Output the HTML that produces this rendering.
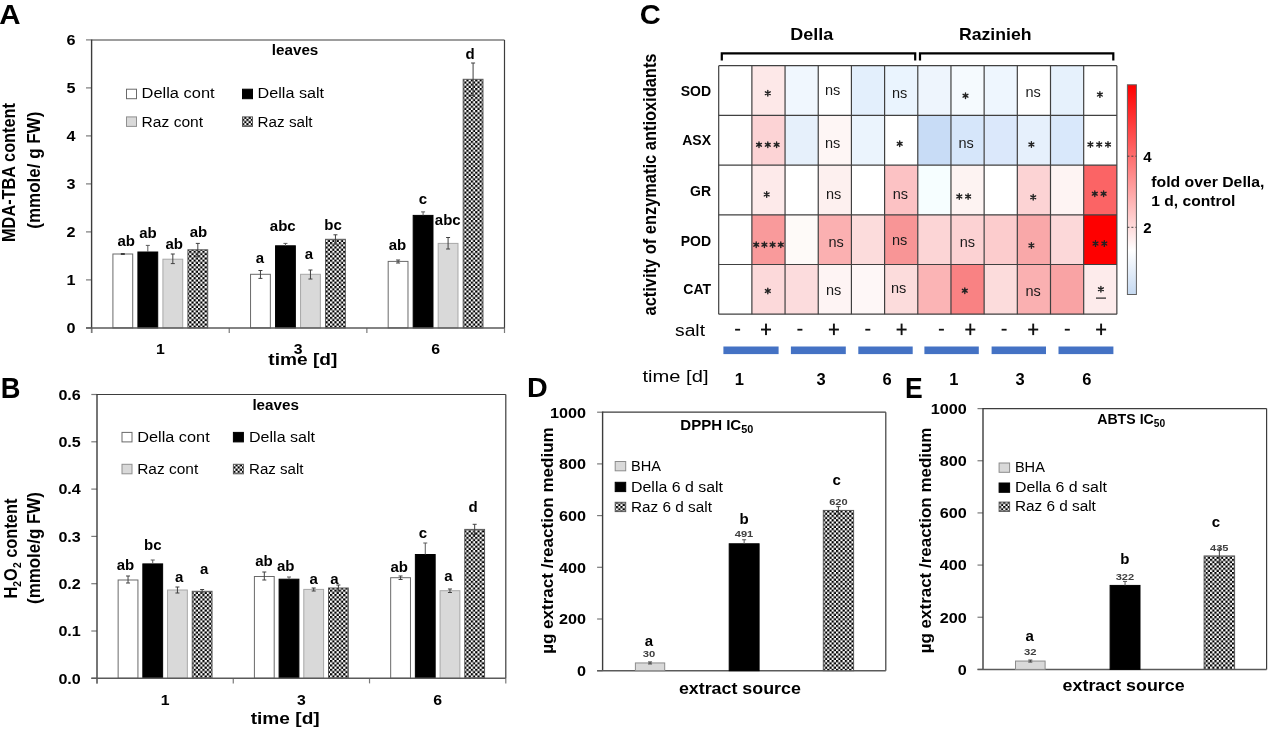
<!DOCTYPE html><html><head><meta charset="utf-8"><style>html,body{margin:0;padding:0;background:#fff;width:1268px;height:729px;overflow:hidden}svg{display:block;will-change:transform}text{font-family:"Liberation Sans",sans-serif}</style></head><body>
<svg width="1268" height="729" viewBox="0 0 1268 729">
<defs><pattern id="chk" patternUnits="userSpaceOnUse" width="4.4" height="4.4"><rect width="4.4" height="4.4" fill="#fff"/><rect width="2.2" height="2.2" fill="#000"/><rect x="2.2" y="2.2" width="2.2" height="2.2" fill="#000"/></pattern><linearGradient id="cb" x1="0" y1="0" x2="0" y2="1"><stop offset="0" stop-color="#ff0000"/><stop offset="0.79" stop-color="#ffffff"/><stop offset="1" stop-color="#c5d9f1"/></linearGradient></defs>
<rect x="0" y="0" width="1268" height="729" fill="#fff"/>
<text x="-0.8" y="24" font-size="27" font-weight="bold" textLength="21.3" lengthAdjust="spacingAndGlyphs" fill="#000">A</text>
<line x1="91.6" y1="40" x2="504.5" y2="40" stroke="#3d3d3d" stroke-width="1.2"/>
<line x1="504.5" y1="40" x2="504.5" y2="327.9" stroke="#3d3d3d" stroke-width="1.2"/>
<line x1="86" y1="327.9" x2="91.6" y2="327.9" stroke="#7a7a7a" stroke-width="1.2"/>
<text x="75.6" y="333.2" font-size="15" font-weight="bold" text-anchor="end" textLength="9.0" lengthAdjust="spacingAndGlyphs" fill="#000">0</text>
<line x1="86" y1="279.9" x2="91.6" y2="279.9" stroke="#7a7a7a" stroke-width="1.2"/>
<text x="75.6" y="285.2" font-size="15" font-weight="bold" text-anchor="end" textLength="9.0" lengthAdjust="spacingAndGlyphs" fill="#000">1</text>
<line x1="86" y1="231.89999999999998" x2="91.6" y2="231.89999999999998" stroke="#7a7a7a" stroke-width="1.2"/>
<text x="75.6" y="237.2" font-size="15" font-weight="bold" text-anchor="end" textLength="9.0" lengthAdjust="spacingAndGlyphs" fill="#000">2</text>
<line x1="86" y1="183.89999999999998" x2="91.6" y2="183.89999999999998" stroke="#7a7a7a" stroke-width="1.2"/>
<text x="75.6" y="189.2" font-size="15" font-weight="bold" text-anchor="end" textLength="9.0" lengthAdjust="spacingAndGlyphs" fill="#000">3</text>
<line x1="86" y1="135.89999999999998" x2="91.6" y2="135.89999999999998" stroke="#7a7a7a" stroke-width="1.2"/>
<text x="75.6" y="141.2" font-size="15" font-weight="bold" text-anchor="end" textLength="9.0" lengthAdjust="spacingAndGlyphs" fill="#000">4</text>
<line x1="86" y1="87.89999999999998" x2="91.6" y2="87.89999999999998" stroke="#7a7a7a" stroke-width="1.2"/>
<text x="75.6" y="93.19999999999997" font-size="15" font-weight="bold" text-anchor="end" textLength="9.0" lengthAdjust="spacingAndGlyphs" fill="#000">5</text>
<line x1="86" y1="39.89999999999998" x2="91.6" y2="39.89999999999998" stroke="#7a7a7a" stroke-width="1.2"/>
<text x="75.6" y="45.199999999999974" font-size="15" font-weight="bold" text-anchor="end" textLength="9.0" lengthAdjust="spacingAndGlyphs" fill="#000">6</text>
<line x1="91.6" y1="39.4" x2="91.6" y2="333" stroke="#3c3c3c" stroke-width="1.4"/>
<line x1="91.6" y1="327.9" x2="91.6" y2="333" stroke="#7a7a7a" stroke-width="1.2"/>
<line x1="229.23333333333332" y1="327.9" x2="229.23333333333332" y2="333" stroke="#7a7a7a" stroke-width="1.2"/>
<line x1="366.8666666666667" y1="327.9" x2="366.8666666666667" y2="333" stroke="#7a7a7a" stroke-width="1.2"/>
<line x1="504.5" y1="327.9" x2="504.5" y2="333" stroke="#7a7a7a" stroke-width="1.2"/>
<rect x="112.91666666666666" y="254" width="19.80000000000001" height="73.89999999999998" fill="#fff" stroke="#6a6a6a" stroke-width="1"/>
<line x1="122.81666666666666" y1="253.5" x2="122.81666666666666" y2="254.5" stroke="#404040" stroke-width="1"/>
<line x1="120.81666666666666" y1="253.5" x2="124.81666666666666" y2="253.5" stroke="#404040" stroke-width="1"/>
<line x1="120.81666666666666" y1="254.5" x2="124.81666666666666" y2="254.5" stroke="#404040" stroke-width="1"/>
<rect x="137.91666666666666" y="252" width="19.80000000000001" height="75.89999999999998" fill="#000" stroke="#000" stroke-width="1"/>
<line x1="147.81666666666666" y1="245.4" x2="147.81666666666666" y2="252" stroke="#5a5a5a" stroke-width="1"/>
<line x1="145.81666666666666" y1="245.4" x2="149.81666666666666" y2="245.4" stroke="#5a5a5a" stroke-width="1"/>
<rect x="162.91666666666666" y="259.2" width="19.80000000000001" height="68.69999999999999" fill="#d9d9d9" stroke="#a8a8a8" stroke-width="1"/>
<line x1="172.81666666666666" y1="254" x2="172.81666666666666" y2="263.6" stroke="#404040" stroke-width="1"/>
<line x1="170.81666666666666" y1="254" x2="174.81666666666666" y2="254" stroke="#404040" stroke-width="1"/>
<line x1="170.81666666666666" y1="263.6" x2="174.81666666666666" y2="263.6" stroke="#404040" stroke-width="1"/>
<rect x="187.91666666666666" y="249.8" width="19.80000000000001" height="78.09999999999997" fill="url(#chk)" stroke="#595959" stroke-width="1"/>
<line x1="197.81666666666666" y1="243.4" x2="197.81666666666666" y2="256.2" stroke="#404040" stroke-width="1"/>
<line x1="195.81666666666666" y1="243.4" x2="199.81666666666666" y2="243.4" stroke="#404040" stroke-width="1"/>
<line x1="195.81666666666666" y1="256.2" x2="199.81666666666666" y2="256.2" stroke="#404040" stroke-width="1"/>
<rect x="250.54999999999995" y="274.3" width="19.80000000000001" height="53.599999999999966" fill="#fff" stroke="#6a6a6a" stroke-width="1"/>
<line x1="260.44999999999993" y1="270.5" x2="260.44999999999993" y2="278.4" stroke="#404040" stroke-width="1"/>
<line x1="258.44999999999993" y1="270.5" x2="262.44999999999993" y2="270.5" stroke="#404040" stroke-width="1"/>
<line x1="258.44999999999993" y1="278.4" x2="262.44999999999993" y2="278.4" stroke="#404040" stroke-width="1"/>
<rect x="275.54999999999995" y="245.8" width="19.80000000000001" height="82.09999999999997" fill="#000" stroke="#000" stroke-width="1"/>
<line x1="285.44999999999993" y1="243.4" x2="285.44999999999993" y2="245.8" stroke="#5a5a5a" stroke-width="1"/>
<line x1="283.44999999999993" y1="243.4" x2="287.44999999999993" y2="243.4" stroke="#5a5a5a" stroke-width="1"/>
<rect x="300.54999999999995" y="274.3" width="19.80000000000001" height="53.599999999999966" fill="#d9d9d9" stroke="#a8a8a8" stroke-width="1"/>
<line x1="310.44999999999993" y1="270" x2="310.44999999999993" y2="279" stroke="#404040" stroke-width="1"/>
<line x1="308.44999999999993" y1="270" x2="312.44999999999993" y2="270" stroke="#404040" stroke-width="1"/>
<line x1="308.44999999999993" y1="279" x2="312.44999999999993" y2="279" stroke="#404040" stroke-width="1"/>
<rect x="325.54999999999995" y="239.3" width="19.80000000000001" height="88.59999999999997" fill="url(#chk)" stroke="#595959" stroke-width="1"/>
<line x1="335.44999999999993" y1="234.8" x2="335.44999999999993" y2="244" stroke="#404040" stroke-width="1"/>
<line x1="333.44999999999993" y1="234.8" x2="337.44999999999993" y2="234.8" stroke="#404040" stroke-width="1"/>
<line x1="333.44999999999993" y1="244" x2="337.44999999999993" y2="244" stroke="#404040" stroke-width="1"/>
<rect x="388.1833333333333" y="261.4" width="19.80000000000001" height="66.5" fill="#fff" stroke="#6a6a6a" stroke-width="1"/>
<line x1="398.08333333333326" y1="260" x2="398.08333333333326" y2="263" stroke="#404040" stroke-width="1"/>
<line x1="396.08333333333326" y1="260" x2="400.08333333333326" y2="260" stroke="#404040" stroke-width="1"/>
<line x1="396.08333333333326" y1="263" x2="400.08333333333326" y2="263" stroke="#404040" stroke-width="1"/>
<rect x="413.1833333333333" y="215.4" width="19.80000000000001" height="112.49999999999997" fill="#000" stroke="#000" stroke-width="1"/>
<line x1="423.08333333333326" y1="211.9" x2="423.08333333333326" y2="215.4" stroke="#5a5a5a" stroke-width="1"/>
<line x1="421.08333333333326" y1="211.9" x2="425.08333333333326" y2="211.9" stroke="#5a5a5a" stroke-width="1"/>
<rect x="438.1833333333333" y="243.4" width="19.80000000000001" height="84.49999999999997" fill="#d9d9d9" stroke="#a8a8a8" stroke-width="1"/>
<line x1="448.08333333333326" y1="237.5" x2="448.08333333333326" y2="249" stroke="#404040" stroke-width="1"/>
<line x1="446.08333333333326" y1="237.5" x2="450.08333333333326" y2="237.5" stroke="#404040" stroke-width="1"/>
<line x1="446.08333333333326" y1="249" x2="450.08333333333326" y2="249" stroke="#404040" stroke-width="1"/>
<rect x="463.1833333333333" y="79.3" width="19.80000000000001" height="248.59999999999997" fill="url(#chk)" stroke="#595959" stroke-width="1"/>
<line x1="473.08333333333326" y1="63" x2="473.08333333333326" y2="95.6" stroke="#404040" stroke-width="1"/>
<line x1="471.08333333333326" y1="63" x2="475.08333333333326" y2="63" stroke="#404040" stroke-width="1"/>
<line x1="471.08333333333326" y1="95.6" x2="475.08333333333326" y2="95.6" stroke="#404040" stroke-width="1"/>
<line x1="86" y1="327.9" x2="504.5" y2="327.9" stroke="#5a5a5a" stroke-width="1.5"/>
<text x="160.41666666666666" y="353.7" font-size="14.5" font-weight="bold" text-anchor="middle" textLength="8.8" lengthAdjust="spacingAndGlyphs" fill="#000">1</text>
<text x="298.04999999999995" y="353.7" font-size="14.5" font-weight="bold" text-anchor="middle" textLength="8.8" lengthAdjust="spacingAndGlyphs" fill="#000">3</text>
<text x="435.6833333333333" y="353.7" font-size="14.5" font-weight="bold" text-anchor="middle" textLength="8.8" lengthAdjust="spacingAndGlyphs" fill="#000">6</text>
<text x="268.3" y="365" font-size="16.5" font-weight="bold" textLength="69" lengthAdjust="spacingAndGlyphs" fill="#000">time [d]</text>
<text x="271.8" y="54.8" font-size="14" font-weight="bold" textLength="46.5" lengthAdjust="spacingAndGlyphs" fill="#000">leaves</text>
<rect x="126.5" y="89.2" width="10" height="9.5" fill="#fff" stroke="#6a6a6a" stroke-width="1"/>
<rect x="242.5" y="89.2" width="10" height="9.5" fill="#000" stroke="#000" stroke-width="1"/>
<rect x="126.5" y="116.9" width="10" height="9.5" fill="#d9d9d9" stroke="#909090" stroke-width="1"/>
<rect x="242.5" y="116.9" width="10" height="9.5" fill="url(#chk)" stroke="#595959" stroke-width="1"/>
<text x="141.6" y="98.3" font-size="14" font-weight="normal" textLength="73" lengthAdjust="spacingAndGlyphs" fill="#000">Della cont</text>
<text x="257.6" y="98.3" font-size="14" font-weight="normal" textLength="66.5" lengthAdjust="spacingAndGlyphs" fill="#000">Della salt</text>
<text x="141.6" y="126.7" font-size="14" font-weight="normal" textLength="61.5" lengthAdjust="spacingAndGlyphs" fill="#000">Raz cont</text>
<text x="257.6" y="126.7" font-size="14" font-weight="normal" textLength="55" lengthAdjust="spacingAndGlyphs" fill="#000">Raz salt</text>
<text x="126.3" y="246.3" font-size="15" font-weight="bold" text-anchor="middle" fill="#000">ab</text>
<text x="147.9" y="238.1" font-size="15" font-weight="bold" text-anchor="middle" fill="#000">ab</text>
<text x="174.2" y="248.7" font-size="15" font-weight="bold" text-anchor="middle" fill="#000">ab</text>
<text x="198.4" y="236.5" font-size="15" font-weight="bold" text-anchor="middle" fill="#000">ab</text>
<text x="259.8" y="262.5" font-size="15" font-weight="bold" text-anchor="middle" fill="#000">a</text>
<text x="282.8" y="231.2" font-size="15" font-weight="bold" text-anchor="middle" fill="#000">abc</text>
<text x="308.8" y="259.2" font-size="15" font-weight="bold" text-anchor="middle" fill="#000">a</text>
<text x="333" y="230.2" font-size="15" font-weight="bold" text-anchor="middle" fill="#000">bc</text>
<text x="397.5" y="250.3" font-size="15" font-weight="bold" text-anchor="middle" fill="#000">ab</text>
<text x="422.8" y="203.8" font-size="15" font-weight="bold" text-anchor="middle" fill="#000">c</text>
<text x="447.8" y="225" font-size="15" font-weight="bold" text-anchor="middle" fill="#000">abc</text>
<text x="470" y="59.2" font-size="15" font-weight="bold" text-anchor="middle" fill="#000">d</text>
<text transform="translate(15.2,172.5) rotate(-90)" font-size="17.5" font-weight="bold" text-anchor="middle" textLength="139" lengthAdjust="spacingAndGlyphs" fill="#000">MDA-TBA content</text>
<text transform="translate(40.3,170.2) rotate(-90)" font-size="17.5" font-weight="bold" text-anchor="middle" textLength="117" lengthAdjust="spacingAndGlyphs" fill="#000">(mmole/ g FW)</text>
<text x="0.7" y="397.8" font-size="29" font-weight="bold" textLength="19.7" lengthAdjust="spacingAndGlyphs" fill="#000">B</text>
<line x1="97" y1="394.5" x2="505.8" y2="394.5" stroke="#3d3d3d" stroke-width="1.2"/>
<line x1="505.8" y1="394.5" x2="505.8" y2="678.3" stroke="#3d3d3d" stroke-width="1.2"/>
<line x1="91.3" y1="678.3" x2="97" y2="678.3" stroke="#7a7a7a" stroke-width="1.2"/>
<text x="80.8" y="683.5999999999999" font-size="15" font-weight="bold" text-anchor="end" textLength="22.4" lengthAdjust="spacingAndGlyphs" fill="#000">0.0</text>
<line x1="91.3" y1="631.0" x2="97" y2="631.0" stroke="#7a7a7a" stroke-width="1.2"/>
<text x="80.8" y="636.3" font-size="15" font-weight="bold" text-anchor="end" textLength="22.4" lengthAdjust="spacingAndGlyphs" fill="#000">0.1</text>
<line x1="91.3" y1="583.6999999999999" x2="97" y2="583.6999999999999" stroke="#7a7a7a" stroke-width="1.2"/>
<text x="80.8" y="588.9999999999999" font-size="15" font-weight="bold" text-anchor="end" textLength="22.4" lengthAdjust="spacingAndGlyphs" fill="#000">0.2</text>
<line x1="91.3" y1="536.4" x2="97" y2="536.4" stroke="#7a7a7a" stroke-width="1.2"/>
<text x="80.8" y="541.6999999999999" font-size="15" font-weight="bold" text-anchor="end" textLength="22.4" lengthAdjust="spacingAndGlyphs" fill="#000">0.3</text>
<line x1="91.3" y1="489.09999999999997" x2="97" y2="489.09999999999997" stroke="#7a7a7a" stroke-width="1.2"/>
<text x="80.8" y="494.4" font-size="15" font-weight="bold" text-anchor="end" textLength="22.4" lengthAdjust="spacingAndGlyphs" fill="#000">0.4</text>
<line x1="91.3" y1="441.79999999999995" x2="97" y2="441.79999999999995" stroke="#7a7a7a" stroke-width="1.2"/>
<text x="80.8" y="447.09999999999997" font-size="15" font-weight="bold" text-anchor="end" textLength="22.4" lengthAdjust="spacingAndGlyphs" fill="#000">0.5</text>
<line x1="91.3" y1="394.5" x2="97" y2="394.5" stroke="#7a7a7a" stroke-width="1.2"/>
<text x="80.8" y="399.8" font-size="15" font-weight="bold" text-anchor="end" textLength="22.4" lengthAdjust="spacingAndGlyphs" fill="#000">0.6</text>
<line x1="97" y1="393.9" x2="97" y2="683.4" stroke="#3c3c3c" stroke-width="1.4"/>
<line x1="97.0" y1="678.3" x2="97.0" y2="683.4" stroke="#7a7a7a" stroke-width="1.2"/>
<line x1="233.26666666666668" y1="678.3" x2="233.26666666666668" y2="683.4" stroke="#7a7a7a" stroke-width="1.2"/>
<line x1="369.53333333333336" y1="678.3" x2="369.53333333333336" y2="683.4" stroke="#7a7a7a" stroke-width="1.2"/>
<line x1="505.80000000000007" y1="678.3" x2="505.80000000000007" y2="683.4" stroke="#7a7a7a" stroke-width="1.2"/>
<rect x="118.13333333333333" y="580" width="19.80000000000001" height="98.29999999999995" fill="#fff" stroke="#6a6a6a" stroke-width="1"/>
<line x1="128.03333333333333" y1="576" x2="128.03333333333333" y2="583" stroke="#404040" stroke-width="1"/>
<line x1="126.03333333333333" y1="576" x2="130.03333333333333" y2="576" stroke="#404040" stroke-width="1"/>
<line x1="126.03333333333333" y1="583" x2="130.03333333333333" y2="583" stroke="#404040" stroke-width="1"/>
<rect x="142.83333333333331" y="563.9" width="19.80000000000001" height="114.39999999999998" fill="#000" stroke="#000" stroke-width="1"/>
<line x1="152.73333333333332" y1="560" x2="152.73333333333332" y2="563.9" stroke="#5a5a5a" stroke-width="1"/>
<line x1="150.73333333333332" y1="560" x2="154.73333333333332" y2="560" stroke="#5a5a5a" stroke-width="1"/>
<rect x="167.53333333333333" y="590" width="19.80000000000001" height="88.29999999999995" fill="#d9d9d9" stroke="#a8a8a8" stroke-width="1"/>
<line x1="177.43333333333334" y1="587" x2="177.43333333333334" y2="593" stroke="#404040" stroke-width="1"/>
<line x1="175.43333333333334" y1="587" x2="179.43333333333334" y2="587" stroke="#404040" stroke-width="1"/>
<line x1="175.43333333333334" y1="593" x2="179.43333333333334" y2="593" stroke="#404040" stroke-width="1"/>
<rect x="192.23333333333332" y="591.3" width="19.80000000000001" height="87.0" fill="url(#chk)" stroke="#595959" stroke-width="1"/>
<line x1="202.13333333333333" y1="589.5" x2="202.13333333333333" y2="593" stroke="#404040" stroke-width="1"/>
<line x1="200.13333333333333" y1="589.5" x2="204.13333333333333" y2="589.5" stroke="#404040" stroke-width="1"/>
<line x1="200.13333333333333" y1="593" x2="204.13333333333333" y2="593" stroke="#404040" stroke-width="1"/>
<rect x="254.40000000000003" y="576.5" width="19.80000000000001" height="101.79999999999995" fill="#fff" stroke="#6a6a6a" stroke-width="1"/>
<line x1="264.3" y1="572" x2="264.3" y2="580" stroke="#404040" stroke-width="1"/>
<line x1="262.3" y1="572" x2="266.3" y2="572" stroke="#404040" stroke-width="1"/>
<line x1="262.3" y1="580" x2="266.3" y2="580" stroke="#404040" stroke-width="1"/>
<rect x="279.1" y="579.2" width="19.80000000000001" height="99.09999999999991" fill="#000" stroke="#000" stroke-width="1"/>
<line x1="289.0" y1="577" x2="289.0" y2="579.2" stroke="#5a5a5a" stroke-width="1"/>
<line x1="287.0" y1="577" x2="291.0" y2="577" stroke="#5a5a5a" stroke-width="1"/>
<rect x="303.8" y="589.4" width="19.80000000000001" height="88.89999999999998" fill="#d9d9d9" stroke="#a8a8a8" stroke-width="1"/>
<line x1="313.7" y1="588" x2="313.7" y2="591" stroke="#404040" stroke-width="1"/>
<line x1="311.7" y1="588" x2="315.7" y2="588" stroke="#404040" stroke-width="1"/>
<line x1="311.7" y1="591" x2="315.7" y2="591" stroke="#404040" stroke-width="1"/>
<rect x="328.5" y="588" width="19.80000000000001" height="90.29999999999995" fill="url(#chk)" stroke="#595959" stroke-width="1"/>
<line x1="338.4" y1="585" x2="338.4" y2="591" stroke="#404040" stroke-width="1"/>
<line x1="336.4" y1="585" x2="340.4" y2="585" stroke="#404040" stroke-width="1"/>
<line x1="336.4" y1="591" x2="340.4" y2="591" stroke="#404040" stroke-width="1"/>
<rect x="390.6666666666667" y="577.7" width="19.80000000000001" height="100.59999999999991" fill="#fff" stroke="#6a6a6a" stroke-width="1"/>
<line x1="400.56666666666666" y1="576" x2="400.56666666666666" y2="579.5" stroke="#404040" stroke-width="1"/>
<line x1="398.56666666666666" y1="576" x2="402.56666666666666" y2="576" stroke="#404040" stroke-width="1"/>
<line x1="398.56666666666666" y1="579.5" x2="402.56666666666666" y2="579.5" stroke="#404040" stroke-width="1"/>
<rect x="415.3666666666667" y="554.5" width="19.80000000000001" height="123.79999999999995" fill="#000" stroke="#000" stroke-width="1"/>
<line x1="425.26666666666665" y1="543" x2="425.26666666666665" y2="554.5" stroke="#5a5a5a" stroke-width="1"/>
<line x1="423.26666666666665" y1="543" x2="427.26666666666665" y2="543" stroke="#5a5a5a" stroke-width="1"/>
<rect x="440.06666666666666" y="590.7" width="19.80000000000001" height="87.59999999999991" fill="#d9d9d9" stroke="#a8a8a8" stroke-width="1"/>
<line x1="449.96666666666664" y1="589" x2="449.96666666666664" y2="592.5" stroke="#404040" stroke-width="1"/>
<line x1="447.96666666666664" y1="589" x2="451.96666666666664" y2="589" stroke="#404040" stroke-width="1"/>
<line x1="447.96666666666664" y1="592.5" x2="451.96666666666664" y2="592.5" stroke="#404040" stroke-width="1"/>
<rect x="464.76666666666665" y="529.4" width="19.80000000000001" height="148.89999999999998" fill="url(#chk)" stroke="#595959" stroke-width="1"/>
<line x1="474.66666666666663" y1="524.3" x2="474.66666666666663" y2="534.5" stroke="#404040" stroke-width="1"/>
<line x1="472.66666666666663" y1="524.3" x2="476.66666666666663" y2="524.3" stroke="#404040" stroke-width="1"/>
<line x1="472.66666666666663" y1="534.5" x2="476.66666666666663" y2="534.5" stroke="#404040" stroke-width="1"/>
<line x1="91.3" y1="678.3" x2="505.8" y2="678.3" stroke="#5a5a5a" stroke-width="1.5"/>
<text x="165.13333333333333" y="704.5" font-size="14.5" font-weight="bold" text-anchor="middle" textLength="8.8" lengthAdjust="spacingAndGlyphs" fill="#000">1</text>
<text x="301.40000000000003" y="704.5" font-size="14.5" font-weight="bold" text-anchor="middle" textLength="8.8" lengthAdjust="spacingAndGlyphs" fill="#000">3</text>
<text x="437.6666666666667" y="704.5" font-size="14.5" font-weight="bold" text-anchor="middle" textLength="8.8" lengthAdjust="spacingAndGlyphs" fill="#000">6</text>
<text x="250.7" y="723.9" font-size="16.5" font-weight="bold" textLength="69" lengthAdjust="spacingAndGlyphs" fill="#000">time [d]</text>
<text x="252.4" y="409.9" font-size="14" font-weight="bold" textLength="46.5" lengthAdjust="spacingAndGlyphs" fill="#000">leaves</text>
<rect x="122" y="432.4" width="10" height="9.5" fill="#fff" stroke="#6a6a6a" stroke-width="1"/>
<rect x="233.4" y="432.4" width="10" height="9.5" fill="#000" stroke="#000" stroke-width="1"/>
<rect x="122" y="464.3" width="10" height="9.5" fill="#d9d9d9" stroke="#909090" stroke-width="1"/>
<rect x="233.4" y="464.3" width="10" height="9.5" fill="url(#chk)" stroke="#595959" stroke-width="1"/>
<text x="137.2" y="441.5" font-size="14" font-weight="normal" textLength="72.5" lengthAdjust="spacingAndGlyphs" fill="#000">Della cont</text>
<text x="249" y="441.5" font-size="14" font-weight="normal" textLength="66" lengthAdjust="spacingAndGlyphs" fill="#000">Della salt</text>
<text x="137.2" y="473.7" font-size="14" font-weight="normal" textLength="61" lengthAdjust="spacingAndGlyphs" fill="#000">Raz cont</text>
<text x="249" y="473.7" font-size="14" font-weight="normal" textLength="54.5" lengthAdjust="spacingAndGlyphs" fill="#000">Raz salt</text>
<text x="125.4" y="569.9" font-size="15" font-weight="bold" text-anchor="middle" fill="#000">ab</text>
<text x="152.8" y="549.6" font-size="15" font-weight="bold" text-anchor="middle" fill="#000">bc</text>
<text x="179.1" y="582" font-size="15" font-weight="bold" text-anchor="middle" fill="#000">a</text>
<text x="204.1" y="573.7" font-size="15" font-weight="bold" text-anchor="middle" fill="#000">a</text>
<text x="263.9" y="566" font-size="15" font-weight="bold" text-anchor="middle" fill="#000">ab</text>
<text x="285.8" y="570.7" font-size="15" font-weight="bold" text-anchor="middle" fill="#000">ab</text>
<text x="313.6" y="583.6" font-size="15" font-weight="bold" text-anchor="middle" fill="#000">a</text>
<text x="334.4" y="583.6" font-size="15" font-weight="bold" text-anchor="middle" fill="#000">a</text>
<text x="399.2" y="571.7" font-size="15" font-weight="bold" text-anchor="middle" fill="#000">ab</text>
<text x="422.8" y="537.6" font-size="15" font-weight="bold" text-anchor="middle" fill="#000">c</text>
<text x="448.5" y="581.4" font-size="15" font-weight="bold" text-anchor="middle" fill="#000">a</text>
<text x="473.2" y="512" font-size="15" font-weight="bold" text-anchor="middle" fill="#000">d</text>
<text transform="translate(16.8,548.5) rotate(-90)" font-size="17.5" font-weight="bold" text-anchor="middle" textLength="100" lengthAdjust="spacingAndGlyphs">H<tspan font-size="11" dy="4">2</tspan><tspan dy="-4">O</tspan><tspan font-size="11" dy="4">2</tspan><tspan dy="-4"> content</tspan></text>
<text transform="translate(40.3,548) rotate(-90)" font-size="17.5" font-weight="bold" text-anchor="middle" textLength="112" lengthAdjust="spacingAndGlyphs" fill="#000">(mmole/g FW)</text>
<text x="639.8000000000001" y="24.4" font-size="27" font-weight="bold" textLength="21.0" lengthAdjust="spacingAndGlyphs" fill="#000">C</text>
<text x="790.3" y="40.2" font-size="17" font-weight="bold" textLength="43" lengthAdjust="spacingAndGlyphs" fill="#000">Della</text>
<text x="959" y="39.8" font-size="17" font-weight="bold" textLength="72.5" lengthAdjust="spacingAndGlyphs" fill="#000">Razinieh</text>
<path d="M721.8,60.5 V53.3 H915.2 V60.5" fill="none" stroke="#000" stroke-width="2.2"/>
<path d="M920,60.5 V53.3 H1113.3 V60.5" fill="none" stroke="#000" stroke-width="2.2"/>
<rect x="718.7" y="65.7" width="33.18" height="49.7" fill="#ffffff"/>
<rect x="751.88" y="65.7" width="33.18" height="49.7" fill="#fde8e8"/>
<rect x="785.0600000000001" y="65.7" width="33.18" height="49.7" fill="#f0f7fe"/>
<rect x="818.24" y="65.7" width="33.18" height="49.7" fill="#ffffff"/>
<rect x="851.4200000000001" y="65.7" width="33.18" height="49.7" fill="#e3effc"/>
<rect x="884.6" y="65.7" width="33.18" height="49.7" fill="#eaf4fe"/>
<rect x="917.78" y="65.7" width="33.18" height="49.7" fill="#eef5fd"/>
<rect x="950.96" y="65.7" width="33.18" height="49.7" fill="#f5fafe"/>
<rect x="984.1400000000001" y="65.7" width="33.18" height="49.7" fill="#eef6fe"/>
<rect x="1017.32" y="65.7" width="33.18" height="49.7" fill="#ffffff"/>
<rect x="1050.5" y="65.7" width="33.18" height="49.7" fill="#e6f1fc"/>
<rect x="1083.68" y="65.7" width="33.18" height="49.7" fill="#ffffff"/>
<rect x="718.7" y="115.4" width="33.18" height="49.7" fill="#ffffff"/>
<rect x="751.88" y="115.4" width="33.18" height="49.7" fill="#fcd3d5"/>
<rect x="785.0600000000001" y="115.4" width="33.18" height="49.7" fill="#e6f0fb"/>
<rect x="818.24" y="115.4" width="33.18" height="49.7" fill="#fef6f5"/>
<rect x="851.4200000000001" y="115.4" width="33.18" height="49.7" fill="#ebf4fd"/>
<rect x="884.6" y="115.4" width="33.18" height="49.7" fill="#ffffff"/>
<rect x="917.78" y="115.4" width="33.18" height="49.7" fill="#c8dcf6"/>
<rect x="950.96" y="115.4" width="33.18" height="49.7" fill="#d6e6fa"/>
<rect x="984.1400000000001" y="115.4" width="33.18" height="49.7" fill="#dbe8fb"/>
<rect x="1017.32" y="115.4" width="33.18" height="49.7" fill="#e6f0fc"/>
<rect x="1050.5" y="115.4" width="33.18" height="49.7" fill="#d9e8fb"/>
<rect x="1083.68" y="115.4" width="33.18" height="49.7" fill="#ffffff"/>
<rect x="718.7" y="165.10000000000002" width="33.18" height="49.7" fill="#ffffff"/>
<rect x="751.88" y="165.10000000000002" width="33.18" height="49.7" fill="#fdeaea"/>
<rect x="785.0600000000001" y="165.10000000000002" width="33.18" height="49.7" fill="#ffffff"/>
<rect x="818.24" y="165.10000000000002" width="33.18" height="49.7" fill="#fdf0ef"/>
<rect x="851.4200000000001" y="165.10000000000002" width="33.18" height="49.7" fill="#ffffff"/>
<rect x="884.6" y="165.10000000000002" width="33.18" height="49.7" fill="#fcc2c4"/>
<rect x="917.78" y="165.10000000000002" width="33.18" height="49.7" fill="#f6feff"/>
<rect x="950.96" y="165.10000000000002" width="33.18" height="49.7" fill="#fdf3f2"/>
<rect x="984.1400000000001" y="165.10000000000002" width="33.18" height="49.7" fill="#ffffff"/>
<rect x="1017.32" y="165.10000000000002" width="33.18" height="49.7" fill="#fcd3d4"/>
<rect x="1050.5" y="165.10000000000002" width="33.18" height="49.7" fill="#fef4f3"/>
<rect x="1083.68" y="165.10000000000002" width="33.18" height="49.7" fill="#fb6465"/>
<rect x="718.7" y="214.8" width="33.18" height="49.7" fill="#ffffff"/>
<rect x="751.88" y="214.8" width="33.18" height="49.7" fill="#f99a9b"/>
<rect x="785.0600000000001" y="214.8" width="33.18" height="49.7" fill="#fefaf8"/>
<rect x="818.24" y="214.8" width="33.18" height="49.7" fill="#fbb0b1"/>
<rect x="851.4200000000001" y="214.8" width="33.18" height="49.7" fill="#fcdcdc"/>
<rect x="884.6" y="214.8" width="33.18" height="49.7" fill="#f89596"/>
<rect x="917.78" y="214.8" width="33.18" height="49.7" fill="#fcd5d6"/>
<rect x="950.96" y="214.8" width="33.18" height="49.7" fill="#fcd2d3"/>
<rect x="984.1400000000001" y="214.8" width="33.18" height="49.7" fill="#fccccd"/>
<rect x="1017.32" y="214.8" width="33.18" height="49.7" fill="#f9a8a9"/>
<rect x="1050.5" y="214.8" width="33.18" height="49.7" fill="#fcd8d9"/>
<rect x="1083.68" y="214.8" width="33.18" height="49.7" fill="#fe0000"/>
<rect x="718.7" y="264.5" width="33.18" height="49.7" fill="#ffffff"/>
<rect x="751.88" y="264.5" width="33.18" height="49.7" fill="#fcd9da"/>
<rect x="785.0600000000001" y="264.5" width="33.18" height="49.7" fill="#fcdcdd"/>
<rect x="818.24" y="264.5" width="33.18" height="49.7" fill="#fef4f4"/>
<rect x="851.4200000000001" y="264.5" width="33.18" height="49.7" fill="#fef7f7"/>
<rect x="884.6" y="264.5" width="33.18" height="49.7" fill="#fcdcdc"/>
<rect x="917.78" y="264.5" width="33.18" height="49.7" fill="#fbb4b5"/>
<rect x="950.96" y="264.5" width="33.18" height="49.7" fill="#f98283"/>
<rect x="984.1400000000001" y="264.5" width="33.18" height="49.7" fill="#fcdcdc"/>
<rect x="1017.32" y="264.5" width="33.18" height="49.7" fill="#fab0b1"/>
<rect x="1050.5" y="264.5" width="33.18" height="49.7" fill="#f9a3a4"/>
<rect x="1083.68" y="264.5" width="33.18" height="49.7" fill="#fdebeb"/>
<line x1="718.7" y1="65.7" x2="718.7" y2="314.2" stroke="#404040" stroke-width="1.2"/>
<line x1="751.88" y1="65.7" x2="751.88" y2="314.2" stroke="#404040" stroke-width="1.2"/>
<line x1="785.0600000000001" y1="65.7" x2="785.0600000000001" y2="314.2" stroke="#404040" stroke-width="1.2"/>
<line x1="818.24" y1="65.7" x2="818.24" y2="314.2" stroke="#404040" stroke-width="1.2"/>
<line x1="851.4200000000001" y1="65.7" x2="851.4200000000001" y2="314.2" stroke="#404040" stroke-width="1.2"/>
<line x1="884.6" y1="65.7" x2="884.6" y2="314.2" stroke="#404040" stroke-width="1.2"/>
<line x1="917.78" y1="65.7" x2="917.78" y2="314.2" stroke="#404040" stroke-width="1.2"/>
<line x1="950.96" y1="65.7" x2="950.96" y2="314.2" stroke="#404040" stroke-width="1.2"/>
<line x1="984.1400000000001" y1="65.7" x2="984.1400000000001" y2="314.2" stroke="#404040" stroke-width="1.2"/>
<line x1="1017.32" y1="65.7" x2="1017.32" y2="314.2" stroke="#404040" stroke-width="1.2"/>
<line x1="1050.5" y1="65.7" x2="1050.5" y2="314.2" stroke="#404040" stroke-width="1.2"/>
<line x1="1083.68" y1="65.7" x2="1083.68" y2="314.2" stroke="#404040" stroke-width="1.2"/>
<line x1="1116.8600000000001" y1="65.7" x2="1116.8600000000001" y2="314.2" stroke="#404040" stroke-width="1.2"/>
<line x1="718.7" y1="65.7" x2="1116.8600000000001" y2="65.7" stroke="#404040" stroke-width="1.2"/>
<line x1="718.7" y1="115.4" x2="1116.8600000000001" y2="115.4" stroke="#404040" stroke-width="1.2"/>
<line x1="718.7" y1="165.10000000000002" x2="1116.8600000000001" y2="165.10000000000002" stroke="#404040" stroke-width="1.2"/>
<line x1="718.7" y1="214.8" x2="1116.8600000000001" y2="214.8" stroke="#404040" stroke-width="1.2"/>
<line x1="718.7" y1="264.5" x2="1116.8600000000001" y2="264.5" stroke="#404040" stroke-width="1.2"/>
<line x1="718.7" y1="314.2" x2="1116.8600000000001" y2="314.2" stroke="#404040" stroke-width="1.2"/>
<text x="711" y="95.8" font-size="14" font-weight="bold" text-anchor="end" fill="#000">SOD</text>
<text x="711" y="144.8" font-size="14" font-weight="bold" text-anchor="end" fill="#000">ASX</text>
<text x="711" y="195.7" font-size="14" font-weight="bold" text-anchor="end" fill="#000">GR</text>
<text x="711" y="245.6" font-size="14" font-weight="bold" text-anchor="end" fill="#000">POD</text>
<text x="711" y="294.4" font-size="14" font-weight="bold" text-anchor="end" fill="#000">CAT</text>
<path d="M767.80,90.40L767.80,96.00M770.22,91.80L765.38,94.60M770.22,94.60L765.38,91.80" stroke="#222" stroke-width="1.4" stroke-linecap="round"/>
<text x="832.6" y="95.2" font-size="14.5" font-weight="normal" text-anchor="middle" fill="#1a1a1a">ns</text>
<text x="899.7" y="97.7" font-size="14.5" font-weight="normal" text-anchor="middle" fill="#1a1a1a">ns</text>
<path d="M759.00,142.00L759.00,147.60M761.42,143.40L756.58,146.20M761.42,146.20L756.58,143.40" stroke="#222" stroke-width="1.4" stroke-linecap="round"/>
<path d="M767.80,142.00L767.80,147.60M770.22,143.40L765.38,146.20M770.22,146.20L765.38,143.40" stroke="#222" stroke-width="1.4" stroke-linecap="round"/>
<path d="M776.60,142.00L776.60,147.60M779.02,143.40L774.18,146.20M779.02,146.20L774.18,143.40" stroke="#222" stroke-width="1.4" stroke-linecap="round"/>
<text x="832.6" y="147.60000000000002" font-size="14.5" font-weight="normal" text-anchor="middle" fill="#1a1a1a">ns</text>
<path d="M899.70,141.00L899.70,146.60M902.12,142.40L897.28,145.20M902.12,145.20L897.28,142.40" stroke="#222" stroke-width="1.4" stroke-linecap="round"/>
<path d="M766.70,191.60L766.70,197.20M769.12,193.00L764.28,195.80M769.12,195.80L764.28,193.00" stroke="#222" stroke-width="1.4" stroke-linecap="round"/>
<text x="833.7" y="199.3" font-size="14.5" font-weight="normal" text-anchor="middle" fill="#1a1a1a">ns</text>
<text x="900.4" y="199.3" font-size="14.5" font-weight="normal" text-anchor="middle" fill="#1a1a1a">ns</text>
<path d="M756.20,241.90L756.20,247.50M758.62,243.30L753.78,246.10M758.62,246.10L753.78,243.30" stroke="#222" stroke-width="1.4" stroke-linecap="round"/>
<path d="M764.40,241.90L764.40,247.50M766.82,243.30L761.98,246.10M766.82,246.10L761.98,243.30" stroke="#222" stroke-width="1.4" stroke-linecap="round"/>
<path d="M772.60,241.90L772.60,247.50M775.02,243.30L770.18,246.10M775.02,246.10L770.18,243.30" stroke="#222" stroke-width="1.4" stroke-linecap="round"/>
<path d="M780.80,241.90L780.80,247.50M783.22,243.30L778.38,246.10M783.22,246.10L778.38,243.30" stroke="#222" stroke-width="1.4" stroke-linecap="round"/>
<text x="836.2" y="247.4" font-size="14.5" font-weight="normal" text-anchor="middle" fill="#1a1a1a">ns</text>
<text x="899.7" y="244.9" font-size="14.5" font-weight="normal" text-anchor="middle" fill="#1a1a1a">ns</text>
<path d="M767.80,288.20L767.80,293.80M770.22,289.60L765.38,292.40M770.22,292.40L765.38,289.60" stroke="#222" stroke-width="1.4" stroke-linecap="round"/>
<text x="833.7" y="294.5" font-size="14.5" font-weight="normal" text-anchor="middle" fill="#1a1a1a">ns</text>
<text x="898.6" y="293.0" font-size="14.5" font-weight="normal" text-anchor="middle" fill="#1a1a1a">ns</text>
<path d="M965.50,92.90L965.50,98.50M967.92,94.30L963.08,97.10M967.92,97.10L963.08,94.30" stroke="#222" stroke-width="1.4" stroke-linecap="round"/>
<text x="1033.2" y="97.0" font-size="14.5" font-weight="normal" text-anchor="middle" fill="#1a1a1a">ns</text>
<path d="M1099.90,91.80L1099.90,97.40M1102.32,93.20L1097.48,96.00M1102.32,96.00L1097.48,93.20" stroke="#222" stroke-width="1.4" stroke-linecap="round"/>
<text x="966.2" y="148.3" font-size="14.5" font-weight="normal" text-anchor="middle" fill="#1a1a1a">ns</text>
<path d="M1031.40,141.70L1031.40,147.30M1033.82,143.10L1028.98,145.90M1033.82,145.90L1028.98,143.10" stroke="#222" stroke-width="1.4" stroke-linecap="round"/>
<path d="M1090.40,141.70L1090.40,147.30M1092.82,143.10L1087.98,145.90M1092.82,145.90L1087.98,143.10" stroke="#222" stroke-width="1.4" stroke-linecap="round"/>
<path d="M1099.20,141.70L1099.20,147.30M1101.62,143.10L1096.78,145.90M1101.62,145.90L1096.78,143.10" stroke="#222" stroke-width="1.4" stroke-linecap="round"/>
<path d="M1108.00,141.70L1108.00,147.30M1110.42,143.10L1105.58,145.90M1110.42,145.90L1105.58,143.10" stroke="#222" stroke-width="1.4" stroke-linecap="round"/>
<path d="M959.30,193.70L959.30,199.30M961.72,195.10L956.88,197.90M961.72,197.90L956.88,195.10" stroke="#222" stroke-width="1.4" stroke-linecap="round"/>
<path d="M968.10,193.70L968.10,199.30M970.52,195.10L965.68,197.90M970.52,197.90L965.68,195.10" stroke="#222" stroke-width="1.4" stroke-linecap="round"/>
<path d="M1033.20,194.50L1033.20,200.10M1035.62,195.90L1030.78,198.70M1035.62,198.70L1030.78,195.90" stroke="#222" stroke-width="1.4" stroke-linecap="round"/>
<path d="M1094.80,190.90L1094.80,196.50M1097.22,192.30L1092.38,195.10M1097.22,195.10L1092.38,192.30" stroke="#222" stroke-width="1.4" stroke-linecap="round"/>
<path d="M1103.60,190.90L1103.60,196.50M1106.02,192.30L1101.18,195.10M1106.02,195.10L1101.18,192.30" stroke="#222" stroke-width="1.4" stroke-linecap="round"/>
<text x="967.3" y="247.4" font-size="14.5" font-weight="normal" text-anchor="middle" fill="#1a1a1a">ns</text>
<path d="M1031.40,242.60L1031.40,248.20M1033.82,244.00L1028.98,246.80M1033.82,246.80L1028.98,244.00" stroke="#222" stroke-width="1.4" stroke-linecap="round"/>
<path d="M1095.50,240.80L1095.50,246.40M1097.92,242.20L1093.08,245.00M1097.92,245.00L1093.08,242.20" stroke="#222" stroke-width="1.4" stroke-linecap="round"/>
<path d="M1104.30,240.80L1104.30,246.40M1106.72,242.20L1101.88,245.00M1106.72,245.00L1101.88,242.20" stroke="#222" stroke-width="1.4" stroke-linecap="round"/>
<path d="M964.80,287.90L964.80,293.50M967.22,289.30L962.38,292.10M967.22,292.10L962.38,289.30" stroke="#222" stroke-width="1.4" stroke-linecap="round"/>
<text x="1033.2" y="296.2" font-size="14.5" font-weight="normal" text-anchor="middle" fill="#1a1a1a">ns</text>
<path d="M1100.90,286.40L1100.90,292.00M1103.32,287.80L1098.48,290.60M1103.32,290.60L1098.48,287.80" stroke="#222" stroke-width="1.4" stroke-linecap="round"/>
<line x1="1096" y1="298.1" x2="1106" y2="298.1" stroke="#222" stroke-width="1.2"/>
<rect x="1127.4" y="84.8" width="9" height="209.7" fill="url(#cb)" stroke="#606060" stroke-width="1"/>
<line x1="1127.4" y1="156.2" x2="1136.4" y2="156.2" stroke="#404040" stroke-width="1" stroke-dasharray="2,2"/>
<line x1="1127.4" y1="227.3" x2="1136.4" y2="227.3" stroke="#404040" stroke-width="1" stroke-dasharray="2,2"/>
<text x="1147.3" y="162.3" font-size="15" font-weight="bold" text-anchor="middle" fill="#000">4</text>
<text x="1147.3" y="233.2" font-size="15" font-weight="bold" text-anchor="middle" fill="#000">2</text>
<text x="1151.3" y="186.9" font-size="14" font-weight="bold" textLength="113" lengthAdjust="spacingAndGlyphs" fill="#000">fold over Della,</text>
<text x="1151.3" y="205.6" font-size="14" font-weight="bold" textLength="84" lengthAdjust="spacingAndGlyphs" fill="#000">1 d, control</text>
<text transform="translate(655.8,184.5) rotate(-90)" font-size="19" font-weight="bold" text-anchor="middle" textLength="262" lengthAdjust="spacingAndGlyphs" fill="#000">activity of enzymatic antioxidants</text>
<text x="675" y="335.5" font-size="16" font-weight="normal" textLength="30" lengthAdjust="spacingAndGlyphs" fill="#000">salt</text>
<rect x="735.1" y="328.8" width="5" height="1.8" fill="#111"/>
<rect x="761" y="328.6" width="10" height="1.9" fill="#111"/>
<rect x="765.05" y="323.6" width="1.9" height="11.5" fill="#111"/>
<rect x="797.4" y="328.8" width="5" height="1.8" fill="#111"/>
<rect x="828.9" y="328.6" width="10" height="1.9" fill="#111"/>
<rect x="832.9499999999999" y="323.6" width="1.9" height="11.5" fill="#111"/>
<rect x="865.3" y="328.8" width="5" height="1.8" fill="#111"/>
<rect x="896.6" y="328.6" width="10" height="1.9" fill="#111"/>
<rect x="900.65" y="323.6" width="1.9" height="11.5" fill="#111"/>
<rect x="938.9" y="328.8" width="5" height="1.8" fill="#111"/>
<rect x="965.3" y="328.6" width="10" height="1.9" fill="#111"/>
<rect x="969.3499999999999" y="323.6" width="1.9" height="11.5" fill="#111"/>
<rect x="1001.6" y="328.8" width="5" height="1.8" fill="#111"/>
<rect x="1028.2" y="328.6" width="10" height="1.9" fill="#111"/>
<rect x="1032.25" y="323.6" width="1.9" height="11.5" fill="#111"/>
<rect x="1064.8" y="328.8" width="5" height="1.8" fill="#111"/>
<rect x="1096.1" y="328.6" width="10" height="1.9" fill="#111"/>
<rect x="1100.1499999999999" y="323.6" width="1.9" height="11.5" fill="#111"/>
<rect x="723.4" y="346.5" width="55.200000000000045" height="7.6" fill="#4472c4"/>
<rect x="790.9" y="346.5" width="54.89999999999998" height="7.6" fill="#4472c4"/>
<rect x="858.3" y="346.5" width="54.40000000000009" height="7.6" fill="#4472c4"/>
<rect x="924.4" y="346.5" width="54.39999999999998" height="7.6" fill="#4472c4"/>
<rect x="991.6" y="346.5" width="54.39999999999998" height="7.6" fill="#4472c4"/>
<rect x="1058.5" y="346.5" width="54.90000000000009" height="7.6" fill="#4472c4"/>
<text x="642.5" y="381.6" font-size="17" font-weight="normal" textLength="66" lengthAdjust="spacingAndGlyphs" fill="#000">time [d]</text>
<text x="739.3" y="385.2" font-size="16.5" font-weight="bold" text-anchor="middle" fill="#000">1</text>
<text x="821" y="385.2" font-size="16.5" font-weight="bold" text-anchor="middle" fill="#000">3</text>
<text x="887.2" y="385.2" font-size="16.5" font-weight="bold" text-anchor="middle" fill="#000">6</text>
<text x="953.9" y="385.2" font-size="16.5" font-weight="bold" text-anchor="middle" fill="#000">1</text>
<text x="1020.2" y="385.2" font-size="16.5" font-weight="bold" text-anchor="middle" fill="#000">3</text>
<text x="1086.9" y="385.2" font-size="16.5" font-weight="bold" text-anchor="middle" fill="#000">6</text>
<text x="526.9000000000001" y="397.4" font-size="27" font-weight="bold" textLength="20.7" lengthAdjust="spacingAndGlyphs" fill="#000">D</text>
<line x1="602.6" y1="412.2" x2="885.8" y2="412.2" stroke="#3d3d3d" stroke-width="1.2"/>
<line x1="885.8" y1="412.2" x2="885.8" y2="670.7" stroke="#3d3d3d" stroke-width="1.2"/>
<line x1="597.1" y1="670.7" x2="602.6" y2="670.7" stroke="#7a7a7a" stroke-width="1.2"/>
<text x="586.0" y="676.0" font-size="15" font-weight="bold" text-anchor="end" textLength="9.0" lengthAdjust="spacingAndGlyphs" fill="#000">0</text>
<line x1="597.1" y1="619.0" x2="602.6" y2="619.0" stroke="#7a7a7a" stroke-width="1.2"/>
<text x="586.0" y="624.3" font-size="15" font-weight="bold" text-anchor="end" textLength="27.0" lengthAdjust="spacingAndGlyphs" fill="#000">200</text>
<line x1="597.1" y1="567.3000000000001" x2="602.6" y2="567.3000000000001" stroke="#7a7a7a" stroke-width="1.2"/>
<text x="586.0" y="572.6" font-size="15" font-weight="bold" text-anchor="end" textLength="27.0" lengthAdjust="spacingAndGlyphs" fill="#000">400</text>
<line x1="597.1" y1="515.6" x2="602.6" y2="515.6" stroke="#7a7a7a" stroke-width="1.2"/>
<text x="586.0" y="520.9" font-size="15" font-weight="bold" text-anchor="end" textLength="27.0" lengthAdjust="spacingAndGlyphs" fill="#000">600</text>
<line x1="597.1" y1="463.9" x2="602.6" y2="463.9" stroke="#7a7a7a" stroke-width="1.2"/>
<text x="586.0" y="469.2" font-size="15" font-weight="bold" text-anchor="end" textLength="27.0" lengthAdjust="spacingAndGlyphs" fill="#000">800</text>
<line x1="597.1" y1="412.2" x2="602.6" y2="412.2" stroke="#7a7a7a" stroke-width="1.2"/>
<text x="586.0" y="417.5" font-size="15" font-weight="bold" text-anchor="end" textLength="36.0" lengthAdjust="spacingAndGlyphs" fill="#000">1000</text>
<line x1="602.6" y1="411.59999999999997" x2="602.6" y2="670.7" stroke="#3c3c3c" stroke-width="1.4"/>
<line x1="597.1" y1="670.7" x2="885.8" y2="670.7" stroke="#5a5a5a" stroke-width="1.5"/>
<text x="680.3" y="429.6" font-size="14.5" font-weight="bold" textLength="73" lengthAdjust="spacingAndGlyphs">DPPH IC<tspan font-size="10.5" dy="3.5">50</tspan></text>
<rect x="615.2" y="461.5" width="10.5" height="9.3" fill="#d9d9d9" stroke="#8c8c8c" stroke-width="1"/>
<text x="631.0" y="471" font-size="14" font-weight="normal" textLength="30" lengthAdjust="spacingAndGlyphs" fill="#000">BHA</text>
<rect x="615.2" y="482.3" width="10.5" height="9.3" fill="#000" stroke="#000" stroke-width="1"/>
<text x="631.0" y="491.5" font-size="14" font-weight="normal" textLength="92" lengthAdjust="spacingAndGlyphs" fill="#000">Della 6 d salt</text>
<rect x="615.2" y="502.3" width="10.5" height="9.3" fill="url(#chk)" stroke="#595959" stroke-width="1"/>
<text x="631.0" y="511.5" font-size="14" font-weight="normal" textLength="81" lengthAdjust="spacingAndGlyphs" fill="#000">Raz 6 d salt</text>
<rect x="635.4" y="662.945" width="29.300000000000068" height="7.7549999999999955" fill="#d9d9d9" stroke="#8c8c8c" stroke-width="1"/>
<line x1="650.05" y1="661.945" x2="650.05" y2="663.945" stroke="#404040" stroke-width="1"/>
<line x1="648.05" y1="661.945" x2="652.05" y2="661.945" stroke="#404040" stroke-width="1"/>
<line x1="648.05" y1="663.945" x2="652.05" y2="663.945" stroke="#404040" stroke-width="1"/>
<rect x="729.2" y="543.7765" width="29.899999999999977" height="126.92349999999999" fill="#000" stroke="#000" stroke-width="1"/>
<line x1="744.1500000000001" y1="539.7765" x2="744.1500000000001" y2="543.7765" stroke="#5a5a5a" stroke-width="1"/>
<line x1="742.1500000000001" y1="539.7765" x2="746.1500000000001" y2="539.7765" stroke="#5a5a5a" stroke-width="1"/>
<rect x="823.3" y="510.43" width="30.300000000000068" height="160.27000000000004" fill="url(#chk)" stroke="#595959" stroke-width="1"/>
<line x1="838.45" y1="506.63" x2="838.45" y2="514.23" stroke="#404040" stroke-width="1"/>
<line x1="836.45" y1="506.63" x2="840.45" y2="506.63" stroke="#404040" stroke-width="1"/>
<line x1="836.45" y1="514.23" x2="840.45" y2="514.23" stroke="#404040" stroke-width="1"/>
<text x="648.9" y="645.9" font-size="15" font-weight="bold" text-anchor="middle" fill="#000">a</text>
<text x="649" y="657.2" font-size="9.5" font-weight="bold" text-anchor="middle" textLength="12.5" lengthAdjust="spacingAndGlyphs" fill="#404040">30</text>
<text x="744" y="524" font-size="15" font-weight="bold" text-anchor="middle" fill="#000">b</text>
<text x="744" y="537.1" font-size="9.5" font-weight="bold" text-anchor="middle" textLength="18.5" lengthAdjust="spacingAndGlyphs" fill="#404040">491</text>
<text x="836.6" y="485.1" font-size="15" font-weight="bold" text-anchor="middle" fill="#000">c</text>
<text x="838.4" y="504.9" font-size="9.5" font-weight="bold" text-anchor="middle" textLength="18.5" lengthAdjust="spacingAndGlyphs" fill="#404040">620</text>
<text x="678.9" y="694.4" font-size="17" font-weight="bold" textLength="122" lengthAdjust="spacingAndGlyphs" fill="#000">extract source</text>
<text transform="translate(553,540.55) rotate(-90)" font-size="17" font-weight="bold" text-anchor="middle" textLength="226.60000000000002" lengthAdjust="spacingAndGlyphs" fill="#000">&#181;g extract /reaction medium</text>
<text x="905.1" y="397.7" font-size="29" font-weight="bold" textLength="17.7" lengthAdjust="spacingAndGlyphs" fill="#000">E</text>
<line x1="983" y1="408.6" x2="1266.6" y2="408.6" stroke="#3d3d3d" stroke-width="1.2"/>
<line x1="1266.6" y1="408.6" x2="1266.6" y2="669.4" stroke="#3d3d3d" stroke-width="1.2"/>
<line x1="977.5" y1="669.4" x2="983" y2="669.4" stroke="#7a7a7a" stroke-width="1.2"/>
<text x="966.7" y="674.6999999999999" font-size="15" font-weight="bold" text-anchor="end" textLength="9.0" lengthAdjust="spacingAndGlyphs" fill="#000">0</text>
<line x1="977.5" y1="617.24" x2="983" y2="617.24" stroke="#7a7a7a" stroke-width="1.2"/>
<text x="966.7" y="622.54" font-size="15" font-weight="bold" text-anchor="end" textLength="27.0" lengthAdjust="spacingAndGlyphs" fill="#000">200</text>
<line x1="977.5" y1="565.0799999999999" x2="983" y2="565.0799999999999" stroke="#7a7a7a" stroke-width="1.2"/>
<text x="966.7" y="570.3799999999999" font-size="15" font-weight="bold" text-anchor="end" textLength="27.0" lengthAdjust="spacingAndGlyphs" fill="#000">400</text>
<line x1="977.5" y1="512.92" x2="983" y2="512.92" stroke="#7a7a7a" stroke-width="1.2"/>
<text x="966.7" y="518.2199999999999" font-size="15" font-weight="bold" text-anchor="end" textLength="27.0" lengthAdjust="spacingAndGlyphs" fill="#000">600</text>
<line x1="977.5" y1="460.76" x2="983" y2="460.76" stroke="#7a7a7a" stroke-width="1.2"/>
<text x="966.7" y="466.06" font-size="15" font-weight="bold" text-anchor="end" textLength="27.0" lengthAdjust="spacingAndGlyphs" fill="#000">800</text>
<line x1="977.5" y1="408.6" x2="983" y2="408.6" stroke="#7a7a7a" stroke-width="1.2"/>
<text x="966.7" y="413.90000000000003" font-size="15" font-weight="bold" text-anchor="end" textLength="36.0" lengthAdjust="spacingAndGlyphs" fill="#000">1000</text>
<line x1="983" y1="408.0" x2="983" y2="669.4" stroke="#3c3c3c" stroke-width="1.4"/>
<line x1="977.5" y1="669.4" x2="1266.6" y2="669.4" stroke="#5a5a5a" stroke-width="1.5"/>
<text x="1097.2" y="423.7" font-size="14.5" font-weight="bold" textLength="68" lengthAdjust="spacingAndGlyphs">ABTS IC<tspan font-size="10.5" dy="3.5">50</tspan></text>
<rect x="999.1" y="463" width="10.5" height="9.3" fill="#d9d9d9" stroke="#8c8c8c" stroke-width="1"/>
<text x="1014.9" y="472" font-size="14" font-weight="normal" textLength="30" lengthAdjust="spacingAndGlyphs" fill="#000">BHA</text>
<rect x="999.1" y="483" width="10.5" height="9.3" fill="#000" stroke="#000" stroke-width="1"/>
<text x="1014.9" y="491.8" font-size="14" font-weight="normal" textLength="92" lengthAdjust="spacingAndGlyphs" fill="#000">Della 6 d salt</text>
<rect x="999.1" y="502.1" width="10.5" height="9.3" fill="url(#chk)" stroke="#595959" stroke-width="1"/>
<text x="1014.9" y="511.4" font-size="14" font-weight="normal" textLength="81" lengthAdjust="spacingAndGlyphs" fill="#000">Raz 6 d salt</text>
<rect x="1015.5" y="661.0544" width="29.59999999999991" height="8.34559999999999" fill="#d9d9d9" stroke="#8c8c8c" stroke-width="1"/>
<line x1="1030.3" y1="660.0544" x2="1030.3" y2="662.0544" stroke="#404040" stroke-width="1"/>
<line x1="1028.3" y1="660.0544" x2="1032.3" y2="660.0544" stroke="#404040" stroke-width="1"/>
<line x1="1028.3" y1="662.0544" x2="1032.3" y2="662.0544" stroke="#404040" stroke-width="1"/>
<rect x="1110.1" y="585.4223999999999" width="29.90000000000009" height="83.97760000000005" fill="#000" stroke="#000" stroke-width="1"/>
<line x1="1125.05" y1="581.4223999999999" x2="1125.05" y2="585.4223999999999" stroke="#5a5a5a" stroke-width="1"/>
<line x1="1123.05" y1="581.4223999999999" x2="1127.05" y2="581.4223999999999" stroke="#5a5a5a" stroke-width="1"/>
<rect x="1204.1" y="555.952" width="30.5" height="113.44799999999998" fill="url(#chk)" stroke="#595959" stroke-width="1"/>
<line x1="1219.35" y1="548.952" x2="1219.35" y2="562.952" stroke="#404040" stroke-width="1"/>
<line x1="1217.35" y1="548.952" x2="1221.35" y2="548.952" stroke="#404040" stroke-width="1"/>
<line x1="1217.35" y1="562.952" x2="1221.35" y2="562.952" stroke="#404040" stroke-width="1"/>
<text x="1029.7" y="641.3" font-size="15" font-weight="bold" text-anchor="middle" fill="#000">a</text>
<text x="1030.3" y="655.2" font-size="9.5" font-weight="bold" text-anchor="middle" textLength="12.5" lengthAdjust="spacingAndGlyphs" fill="#404040">32</text>
<text x="1124.9" y="563.5" font-size="15" font-weight="bold" text-anchor="middle" fill="#000">b</text>
<text x="1124.9" y="580.4" font-size="9.5" font-weight="bold" text-anchor="middle" textLength="18.5" lengthAdjust="spacingAndGlyphs" fill="#404040">322</text>
<text x="1215.8" y="527" font-size="15" font-weight="bold" text-anchor="middle" fill="#000">c</text>
<text x="1219.3" y="550.5" font-size="9.5" font-weight="bold" text-anchor="middle" textLength="18.5" lengthAdjust="spacingAndGlyphs" fill="#404040">435</text>
<text x="1062.6" y="691.2" font-size="17" font-weight="bold" textLength="122" lengthAdjust="spacingAndGlyphs" fill="#000">extract source</text>
<text transform="translate(931,540.4) rotate(-90)" font-size="17" font-weight="bold" text-anchor="middle" textLength="225.7" lengthAdjust="spacingAndGlyphs" fill="#000">&#181;g extract /reaction medium</text>
</svg></body></html>
